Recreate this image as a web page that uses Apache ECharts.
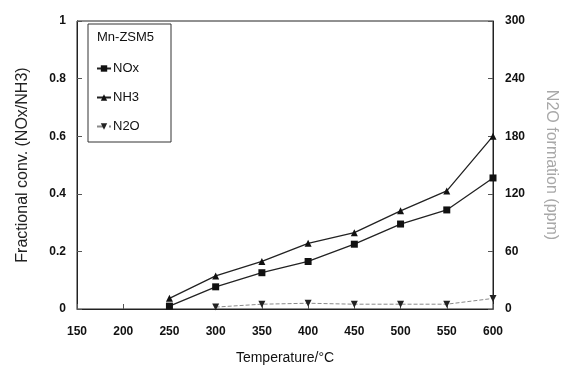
<!DOCTYPE html>
<html>
<head>
<meta charset="utf-8">
<script src="https://cdn.jsdelivr.net/npm/echarts@6/dist/echarts.min.js"></script>
<style>html,body{margin:0;padding:0;background:#fff}#c{width:561px;height:370px}</style>
</head>
<body>
<div id="c"></div>
<script>
var temperatures = [150, 200, 250, 300, 350, 400, 450, 500, 550, 600];
var noxConv = [null, null, 0.01, 0.077, 0.126, 0.165, 0.225, 0.295, 0.344, 0.455];
var nh3Conv = [null, null, 0.037, 0.115, 0.165, 0.228, 0.265, 0.341, 0.41, 0.6];
var n2oPpm  = [null, null, null, 2, 5, 6, 5, 5, 5, 11];
var leftTicks = [0, 0.2, 0.4, 0.6, 0.8, 1];
var rightTicks = [0, 60, 120, 180, 240, 300];

function pairs(vals){
  var out = [];
  for (var i = 0; i < temperatures.length; i++) if (vals[i] !== null) out.push([temperatures[i], vals[i]]);
  return out;
}

var labelFont = {color:'#111', fontSize:12, fontWeight:'bold', fontFamily:'Liberation Sans Narrow, Liberation Sans, Arial'};
var chart = echarts.init(document.getElementById('c'));
chart.setOption({
  animation:false,
  backgroundColor:'#fff',
  grid:{left:77, top:21, width:416, height:288, show:true, borderColor:'#222', borderWidth:1, containLabel:false, outerBoundsMode:'none'},
  xAxis:{type:'value', min:150, max:600, interval:50,
    name:'Temperature/°C', nameLocation:'middle', nameGap:42,
    nameTextStyle:{color:'#111', fontSize:14, fontFamily:'Liberation Sans, Arial'},
    axisLine:{lineStyle:{color:'#222'}}, axisTick:{inside:true, length:5, lineStyle:{color:'#555'}},
    axisLabel:Object.assign({margin:17, formatter:function(v){return String(v);}}, labelFont),
    splitLine:{show:false}},
  yAxis:[
    {type:'value', min:0, max:1, interval:0.2, position:'left',
      name:'Fractional conv. (NOx/NH3)', nameLocation:'middle', nameGap:46,
      nameTextStyle:{color:'#222', fontSize:16, fontFamily:'Liberation Sans, Arial'},
      axisLine:{show:true, lineStyle:{color:'#222'}}, axisTick:{show:true, inside:true, length:5, lineStyle:{color:'#555'}},
      axisLabel:Object.assign({margin:11, formatter:function(v){return String(Math.round(v*10)/10);}}, labelFont),
      splitLine:{show:false}},
    {type:'value', min:0, max:300, interval:60, position:'right',
      name:'N2O formation (ppm)', nameLocation:'middle', nameGap:50, nameRotate:-90,
      nameTextStyle:{color:'#a8a8a8', fontSize:16, fontFamily:'Liberation Sans, Arial'},
      axisLine:{show:true, lineStyle:{color:'#222'}}, axisTick:{show:true, inside:true, length:5, lineStyle:{color:'#555'}},
      axisLabel:Object.assign({margin:12}, labelFont),
      splitLine:{show:false}}
  ],
  legend:{orient:'vertical', left:91, top:57, itemGap:16, itemWidth:14, itemHeight:8,
    textStyle:{color:'#111', fontSize:13, fontFamily:'Liberation Sans, Arial', padding:[0,0,0,-3]},
    data:['NOx','NH3','N2O']},
  graphic:[
    {type:'rect', shape:{x:88, y:24, width:83, height:118}, style:{fill:'#fff', stroke:'#333', lineWidth:1}, z:0},
    {type:'text', left:97, top:31, style:{text:'Mn-ZSM5', fill:'#111', fontSize:13, fontFamily:'Liberation Sans, Arial'}, z:10}
  ],
  series:[
    {name:'NOx', type:'line', yAxisIndex:0, data:pairs(noxConv), symbol:'rect', symbolSize:7,
      lineStyle:{color:'#222', width:1.3}, itemStyle:{color:'#111'}},
    {name:'NH3', type:'line', yAxisIndex:0, data:pairs(nh3Conv), symbol:'triangle', symbolSize:7,
      lineStyle:{color:'#222', width:1.3}, itemStyle:{color:'#111'}},
    {name:'N2O', type:'line', yAxisIndex:1, data:pairs(n2oPpm), symbol:'triangle', symbolRotate:180, symbolSize:7,
      lineStyle:{color:'#8a8a8a', width:1, type:'dashed'}, itemStyle:{color:'#222'}}
  ]
});
</script>
</body>
</html>
